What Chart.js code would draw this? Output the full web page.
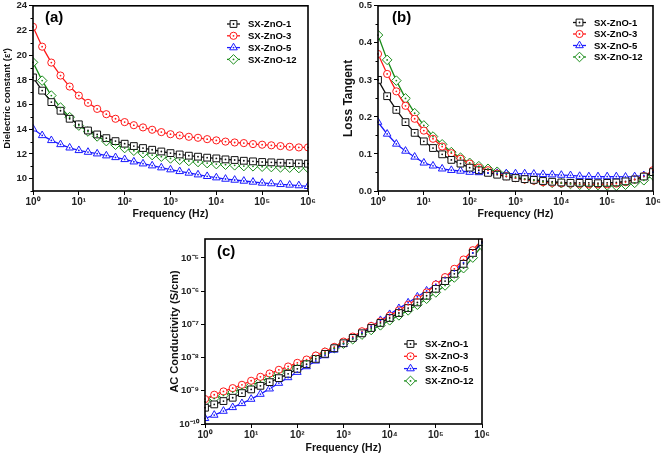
<!DOCTYPE html>
<html>
<head>
<meta charset="utf-8">
<script src="https://cdn.jsdelivr.net/npm/chart.js@4.4.1/dist/chart.umd.min.js"></script>
<style>
  body { margin: 0; background: #fff; }
  #wrap { position: relative; width: 661px; height: 454px; overflow: hidden; }
  canvas { position: absolute; }
</style>
</head>
<body>
<div id="wrap">
  <canvas id="chartA" width="330" height="220" style="left:0;top:0"></canvas>
  <canvas id="chartB" width="331" height="220" style="left:330px;top:0"></canvas>
  <canvas id="chartC" width="340" height="226" style="left:160px;top:228px"></canvas>
</div>
<script>
// frecuencias (Hz), 5 puntos por década
const freq = [1, 1.585, 2.512, 3.981, 6.31, 10, 15.85, 25.12, 39.81, 63.1,
  100, 158.5, 251.2, 398.1, 631, 1000, 1585, 2512, 3981, 6310,
  1e4, 1.585e4, 2.512e4, 3.981e4, 6.31e4, 1e5, 1.585e5, 2.512e5, 3.981e5, 6.31e5, 1e6];

const seriesNames = ['SX-ZnO-1', 'SX-ZnO-3', 'SX-ZnO-5', 'SX-ZnO-12'];

// (a) constante dieléctrica
const epsZnO1 = [18.2, 17.13, 16.2, 15.5, 14.85, 14.4, 13.9, 13.58, 13.28, 13.04, 12.83, 12.64, 12.48, 12.34, 12.2, 12.07,
  11.96, 11.86, 11.78, 11.7, 11.64, 11.56, 11.51, 11.45, 11.4, 11.35, 11.32, 11.29, 11.26, 11.24, 11.21];
const epsZnO3 = [22.3, 20.69, 19.4, 18.35, 17.46, 16.73, 16.14, 15.65, 15.22, 14.85, 14.58, 14.33, 14.15, 13.96, 13.77, 13.6,
  13.5, 13.39, 13.31, 13.2, 13.1, 13.0, 12.93, 12.88, 12.8, 12.75, 12.7, 12.64, 12.58, 12.53, 12.53];
const epsZnO5 = [14.04, 13.5, 13.1, 12.77, 12.5, 12.29, 12.15, 12.02, 11.86, 11.72, 11.56, 11.37, 11.21, 11.05, 10.89, 10.73,
  10.59, 10.46, 10.32, 10.19, 10.08, 9.97, 9.89, 9.81, 9.73, 9.65, 9.6, 9.54, 9.49, 9.44, 9.38];
const epsZnO12 = [19.42, 17.94, 16.73, 15.76, 14.98, 14.3, 13.82, 13.42, 13.04, 12.75, 12.48, 12.26, 12.07, 11.91, 11.78, 11.64,
  11.53, 11.43, 11.35, 11.26, 11.18, 11.13, 11.08, 11.02, 11.0, 10.97, 10.94, 10.91, 10.89, 10.86, 10.86];

// (b) tangente de pérdidas
const tanZnO1 = [0.3, 0.256, 0.219, 0.186, 0.157, 0.134, 0.116, 0.099, 0.084, 0.074, 0.063, 0.056, 0.049, 0.044, 0.039, 0.035,
  0.032, 0.03, 0.027, 0.025, 0.023, 0.022, 0.022, 0.022, 0.021, 0.022, 0.023, 0.026, 0.031, 0.039, 0.051];
const tanZnO3 = [0.37, 0.316, 0.269, 0.23, 0.195, 0.163, 0.141, 0.12, 0.102, 0.087, 0.074, 0.063, 0.056, 0.047, 0.04, 0.035,
  0.031, 0.028, 0.024, 0.022, 0.021, 0.02, 0.019, 0.018, 0.018, 0.018, 0.02, 0.024, 0.031, 0.04, 0.056];
const tanZnO5 = [0.186, 0.154, 0.127, 0.108, 0.092, 0.076, 0.068, 0.06, 0.056, 0.054, 0.051, 0.05, 0.048, 0.048, 0.047, 0.047,
  0.047, 0.046, 0.045, 0.044, 0.043, 0.042, 0.04, 0.039, 0.039, 0.039, 0.039, 0.038, 0.039, 0.042, 0.051];
const tanZnO12 = [0.421, 0.354, 0.298, 0.25, 0.21, 0.177, 0.147, 0.126, 0.105, 0.09, 0.076, 0.067, 0.06, 0.052, 0.045, 0.038,
  0.033, 0.029, 0.025, 0.022, 0.021, 0.019, 0.017, 0.016, 0.016, 0.015, 0.014, 0.017, 0.022, 0.029, 0.042];

// (c) conductividad AC (S/cm)
const acZnO1 = [3.09e-10, 3.89e-10, 4.9e-10, 6.17e-10, 8.51e-10, 1.1e-9, 1.41e-9, 1.82e-9, 2.4e-9, 3.24e-9, 4.57e-9, 6.31e-9,
  9.12e-9, 1.29e-8, 1.91e-8, 2.69e-8, 3.89e-8, 5.37e-8, 7.76e-8, 1.1e-7, 1.55e-7, 2.19e-7, 3.09e-7, 4.57e-7, 7.24e-7,
  1.17e-6, 2.0e-6, 3.31e-6, 6.61e-6, 1.41e-5, 3.02e-5];
const acZnO3 = [5.62e-10, 7.59e-10, 9.55e-10, 1.2e-9, 1.51e-9, 2.0e-9, 2.63e-9, 3.31e-9, 4.27e-9, 5.37e-9, 6.92e-9, 8.71e-9,
  1.15e-8, 1.51e-8, 2.09e-8, 3.02e-8, 4.27e-8, 6.17e-8, 8.91e-8, 1.23e-7, 1.82e-7, 2.63e-7, 3.89e-7, 5.89e-7, 9.12e-7,
  1.58e-6, 2.63e-6, 4.68e-6, 8.91e-6, 1.7e-5, 3.55e-5];
const acZnO5 = [1.48e-10, 1.86e-10, 2.45e-10, 3.16e-10, 4.17e-10, 5.62e-10, 7.94e-10, 1.15e-9, 1.7e-9, 2.51e-9, 3.63e-9, 5.37e-9,
  7.94e-9, 1.15e-8, 1.7e-8, 2.51e-8, 3.8e-8, 5.75e-8, 8.71e-8, 1.32e-7, 2.0e-7, 3.02e-7, 4.47e-7, 6.76e-7, 1.02e-6,
  1.58e-6, 2.51e-6, 4.07e-6, 7.24e-6, 1.41e-5, 2.82e-5];
const acZnO12 = [4.68e-10, 5.89e-10, 7.24e-10, 9.12e-10, 1.15e-9, 1.45e-9, 1.91e-9, 2.51e-9, 3.39e-9, 4.57e-9, 6.03e-9, 7.94e-9,
  1.07e-8, 1.41e-8, 1.91e-8, 2.63e-8, 3.55e-8, 4.9e-8, 6.76e-8, 9.33e-8, 1.32e-7, 1.86e-7, 2.63e-7, 3.89e-7, 5.89e-7,
  9.12e-7, 1.48e-6, 2.57e-6, 4.9e-6, 1.02e-5, 2.34e-5];

// ticks
const freqTicks = [1, 10, 100, 1e3, 1e4, 1e5, 1e6];
const freqTickLabels = ['10⁰', '10¹', '10²', '10³', '10⁴', '10⁵', '10⁶'];
const epsTicks = [10, 12, 14, 16, 18, 20, 22, 24];
const epsMinor = [9, 11, 13, 15, 17, 19, 21, 23];
const tanTicks = [0, 0.1, 0.2, 0.3, 0.4, 0.5];
const tanMinor = [0.05, 0.15, 0.25, 0.35, 0.45];
const acTicks = [1e-10, 1e-9, 1e-8, 1e-7, 1e-6, 1e-5];
const acTickLabels = ['10⁻¹⁰', '10⁻⁹', '10⁻⁸', '10⁻⁷', '10⁻⁶', '10⁻⁵'];

const colors = ['#111111', '#ff1a1a', '#1a1aff', '#1a8c1a'];
const markers = ['rect', 'circle', 'triangle', 'rectRot'];
const markerSize = [4.8, 3.6, 4.4, 4.8];
const FONT = "'Liberation Sans', Arial, sans-serif";

// marco negro, ticks menores, etiqueta del panel, leyenda y punto central de los marcadores
const decorPlugin = {
  id: 'decor',
  afterDatasetsDraw(chart) {
    const ctx = chart.ctx;
    chart.data.datasets.forEach((ds, i) => {
      const meta = chart.getDatasetMeta(i);
      ctx.save();
      ctx.fillStyle = ds.borderColor;
      meta.data.forEach(pt => {
        ctx.beginPath();
        ctx.arc(pt.x, pt.y, 0.9, 0, Math.PI * 2);
        ctx.fill();
      });
      ctx.restore();
    });
  },
  afterDraw(chart, args, opts) {
    const ctx = chart.ctx;
    const a = chart.chartArea;
    ctx.save();
    ctx.strokeStyle = '#000';
    ctx.lineWidth = 1.6;
    ctx.strokeRect(a.left, a.top, a.right - a.left, a.bottom - a.top);

    // ticks menores del eje y
    const ys = chart.scales.y;
    ctx.lineWidth = 1;
    (opts.minor || []).forEach(v => {
      const py = Math.round(ys.getPixelForValue(v)) + 0.5;
      ctx.beginPath();
      ctx.moveTo(a.left, py);
      ctx.lineTo(a.left - 2.5, py);
      ctx.stroke();
    });

    // etiqueta (a)/(b)/(c)
    ctx.fillStyle = '#000';
    ctx.font = 'bold 15px ' + FONT;
    ctx.textBaseline = 'middle';
    ctx.textAlign = 'left';
    ctx.fillText(opts.label, opts.labelX, opts.labelY);

    // leyenda
    const lg = opts.legend;
    ctx.font = 'bold 9.5px ' + FONT;
    chart.data.datasets.forEach((ds, i) => {
      const y = lg.y + i * lg.gap;
      ctx.strokeStyle = ds.borderColor;
      ctx.lineWidth = 1.3;
      ctx.beginPath();
      ctx.moveTo(lg.x, y);
      ctx.lineTo(lg.x + 13, y);
      ctx.stroke();
      ctx.fillStyle = '#fff';
      ctx.lineWidth = 1;
      Chart.helpers.drawPoint(ctx, { pointStyle: ds.pointStyle, radius: ds.pointRadius, rotation: 0, borderWidth: 1 }, lg.x + 6.5, y);
      ctx.fillStyle = ds.borderColor;
      ctx.beginPath();
      ctx.arc(lg.x + 6.5, y, 0.9, 0, Math.PI * 2);
      ctx.fill();
      ctx.fillStyle = '#000';
      ctx.fillText(ds.label, lg.x + 21, y + 0.5);
    });
    ctx.restore();
  }
};

function makeDatasets(arrays) {
  return arrays.map((arr, i) => ({
    label: seriesNames[i],
    data: freq.map((f, j) => ({ x: f, y: arr[j] })),
    borderColor: colors[i],
    borderWidth: 1.3,
    pointStyle: markers[i],
    pointRadius: markerSize[i],
    pointBorderWidth: 1,
    pointBorderColor: colors[i],
    pointBackgroundColor: '#fff',
    tension: 0,
    fill: false
  }));
}

function makePanel(id, p) {
  const tickFont = { family: FONT, size: 10, weight: 'bold' };
  new Chart(document.getElementById(id), {
    type: 'line',
    data: { datasets: makeDatasets(p.series) },
    options: {
      responsive: false,
      animation: false,
      layout: { padding: { left: 0, right: p.padRight, top: p.padTop, bottom: 0 } },
      plugins: {
        legend: { display: false },
        tooltip: { enabled: false },
        decor: { label: p.label, labelX: p.labelX, labelY: p.labelY, minor: p.minor, legend: p.legend }
      },
      scales: {
        x: {
          type: 'logarithmic',
          min: 1, max: 1e6,
          afterBuildTicks: s => { s.ticks = freqTicks.map(v => ({ value: v })); },
          afterFit: s => { s.height = p.xHeight; s.paddingLeft = 0; s.paddingRight = 0; },
          ticks: { callback: (v, i) => freqTickLabels[i], autoSkip: false, maxRotation: 0, padding: 1, color: '#222', font: tickFont },
          grid: { drawOnChartArea: false, drawTicks: true, tickLength: 4, color: '#000' },
          border: { display: false },
          title: { display: true, text: 'Frequency (Hz)', color: '#111', padding: { top: p.xTitlePad, bottom: 0 },
            font: { family: FONT, size: 10.5, weight: 'bold' } }
        },
        y: {
          type: p.yType,
          min: p.yMin, max: p.yMax,
          afterBuildTicks: s => { s.ticks = p.yTicks.map(v => ({ value: v })); },
          afterFit: s => { s.width = p.yWidth; s.paddingTop = 0; s.paddingBottom = 0; },
          ticks: { callback: p.yLabel, autoSkip: false, padding: 2, color: '#222', font: { family: FONT, size: 9.5, weight: 'bold' } },
          grid: { drawOnChartArea: false, drawTicks: true, tickLength: 4, color: '#000' },
          border: { display: false },
          title: { display: true, text: p.yTitle, color: '#111', padding: { top: p.yTitlePad, bottom: 0 },
            font: { family: FONT, size: p.yTitleSize, weight: 'bold' } }
        }
      }
    },
    plugins: [decorPlugin]
  });
}

makePanel('chartA', {
  series: [epsZnO1, epsZnO3, epsZnO5, epsZnO12],
  yType: 'linear', yMin: 9, yMax: 24, yTicks: epsTicks, minor: epsMinor,
  yLabel: v => String(v),
  yTitle: "Dielectric constant (ε')", yTitleSize: 9.5, yTitlePad: 2,
  yWidth: 33, xHeight: 29, padRight: 22, padTop: 5, xTitlePad: 2,
  label: '(a)', labelX: 45, labelY: 18,
  legend: { x: 227, y: 24, gap: 11.8 }
});

makePanel('chartB', {
  series: [tanZnO1, tanZnO3, tanZnO5, tanZnO12],
  yType: 'linear', yMin: 0, yMax: 0.5, yTicks: tanTicks, minor: tanMinor,
  yLabel: v => v.toFixed(1),
  yTitle: 'Loss Tangent', yTitleSize: 12, yTitlePad: 11,
  yWidth: 48, xHeight: 29, padRight: 8, padTop: 5, xTitlePad: 2,
  label: '(b)', labelX: 62, labelY: 18,
  legend: { x: 243, y: 22.5, gap: 11.5 }
});

makePanel('chartC', {
  series: [acZnO1, acZnO3, acZnO5, acZnO12],
  yType: 'logarithmic', yMin: 1e-10, yMax: 3.7e-5, yTicks: acTicks, minor: [],
  yLabel: (v, i) => acTickLabels[i],
  yTitle: 'AC Conductivity (S/cm)', yTitleSize: 11, yTitlePad: 8,
  yWidth: 45, xHeight: 30, padRight: 18, padTop: 11, xTitlePad: 3,
  label: '(c)', labelX: 57, labelY: 24,
  legend: { x: 244, y: 116, gap: 12.3 }
});
</script>
</body>
</html>
